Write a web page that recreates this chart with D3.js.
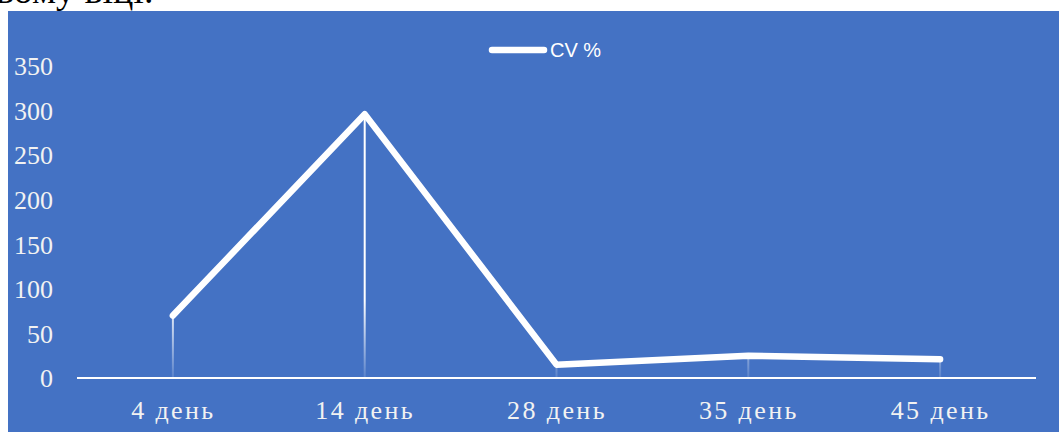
<!DOCTYPE html>
<html>
<head>
<meta charset="utf-8">
<script src="https://cdn.jsdelivr.net/npm/d3@7"></script>
<style>
  html, body { margin: 0; padding: 0; background: #ffffff; }
  svg { display: block; }
</style>
</head>
<body>
<svg id="chart" width="1059" height="432"></svg>
<script>
const categories = ["4 день", "14 день", "28 день", "35 день", "45 день"];
const cvValues = [70, 296, 15, 25, 21];
const yTicks = [0, 50, 100, 150, 200, 250, 300, 350];
const seriesName = "CV %";
const headerText = "вому віці.";

const W = 1059, H = 432;
const svg = d3.select("#chart");

// top text fragment (cropped by the page edge, as in the reference)
svg.append("text")
  .attr("x", -4).attr("y", 3)
  .attr("font-family", "Liberation Serif, Times New Roman, serif")
  .attr("font-size", 38)
  .attr("fill", "#000")
  .text(headerText);

// chart background
svg.append("rect")
  .attr("x", 8).attr("y", 11)
  .attr("width", W - 8).attr("height", H - 11)
  .attr("fill", "#4472C4");

const plot = { left: 77, right: 1036, top: 66, bottom: 378 };

const x = d3.scalePoint()
  .domain(categories)
  .range([plot.left, plot.right])
  .padding(0.5);

const y = d3.scaleLinear()
  .domain([0, 350])
  .range([plot.bottom, plot.top]);

// gradient for drop lines
const defs = svg.append("defs");
const grad = defs.append("linearGradient")
  .attr("id", "dropGrad")
  .attr("gradientUnits", "userSpaceOnUse")
  .attr("x1", 0).attr("x2", 0)
  .attr("y1", 300).attr("y2", plot.bottom);
grad.append("stop").attr("offset", "0%").attr("stop-color", "#fff").attr("stop-opacity", 1);
grad.append("stop").attr("offset", "100%").attr("stop-color", "#fff").attr("stop-opacity", 0.12);

// Y axis labels
const yAxis = d3.axisLeft(y).tickValues(yTicks).tickSize(0).tickPadding(0);
const gy = svg.append("g").attr("transform", `translate(53,0)`).call(yAxis);
gy.select(".domain").remove();
gy.selectAll("text")
  .attr("font-family", "Liberation Serif, Times New Roman, serif")
  .attr("font-size", 26)
  .attr("fill", "#f2f2f2")
  .attr("dy", "0.34em");

// X axis
const xAxis = d3.axisBottom(x).tickSize(0).tickPadding(0);
const gx = svg.append("g").attr("transform", `translate(0,${plot.bottom})`).call(xAxis);
gx.select(".domain").remove();
gx.selectAll("text")
  .attr("font-family", "Liberation Serif, Times New Roman, serif")
  .attr("font-size", 26)
  .attr("fill", "#f2f2f2")
  .attr("letter-spacing", "2.4px")
  .attr("dy", 0)
  .attr("y", 41);

// drop lines
svg.append("g").selectAll("rect")
  .data(categories)
  .join("rect")
  .attr("x", d => x(d) - 1)
  .attr("y", (d, i) => y(cvValues[i]))
  .attr("width", 2)
  .attr("height", (d, i) => plot.bottom - y(cvValues[i]))
  .attr("fill", "url(#dropGrad)");

// axis line
svg.append("line")
  .attr("x1", plot.left).attr("x2", plot.right)
  .attr("y1", plot.bottom).attr("y2", plot.bottom)
  .attr("stroke", "#ffffff").attr("stroke-width", 2);

// series line
const line = d3.line()
  .x((d, i) => x(categories[i]))
  .y(d => y(d));
svg.append("path")
  .datum(cvValues)
  .attr("d", line)
  .attr("fill", "none")
  .attr("stroke", "#ffffff")
  .attr("stroke-width", 6.5)
  .attr("stroke-linejoin", "round")
  .attr("stroke-linecap", "round");

// legend
const lg = svg.append("g");
lg.append("line")
  .attr("x1", 492).attr("x2", 544)
  .attr("y1", 50).attr("y2", 50)
  .attr("stroke", "#fff").attr("stroke-width", 6.5)
  .attr("stroke-linecap", "round");
lg.append("text")
  .attr("x", 550).attr("y", 57)
  .attr("font-family", "Liberation Sans, Arial, sans-serif")
  .attr("font-size", 20)
  .attr("fill", "#fff")
  .text(seriesName);
</script>
</body>
</html>
